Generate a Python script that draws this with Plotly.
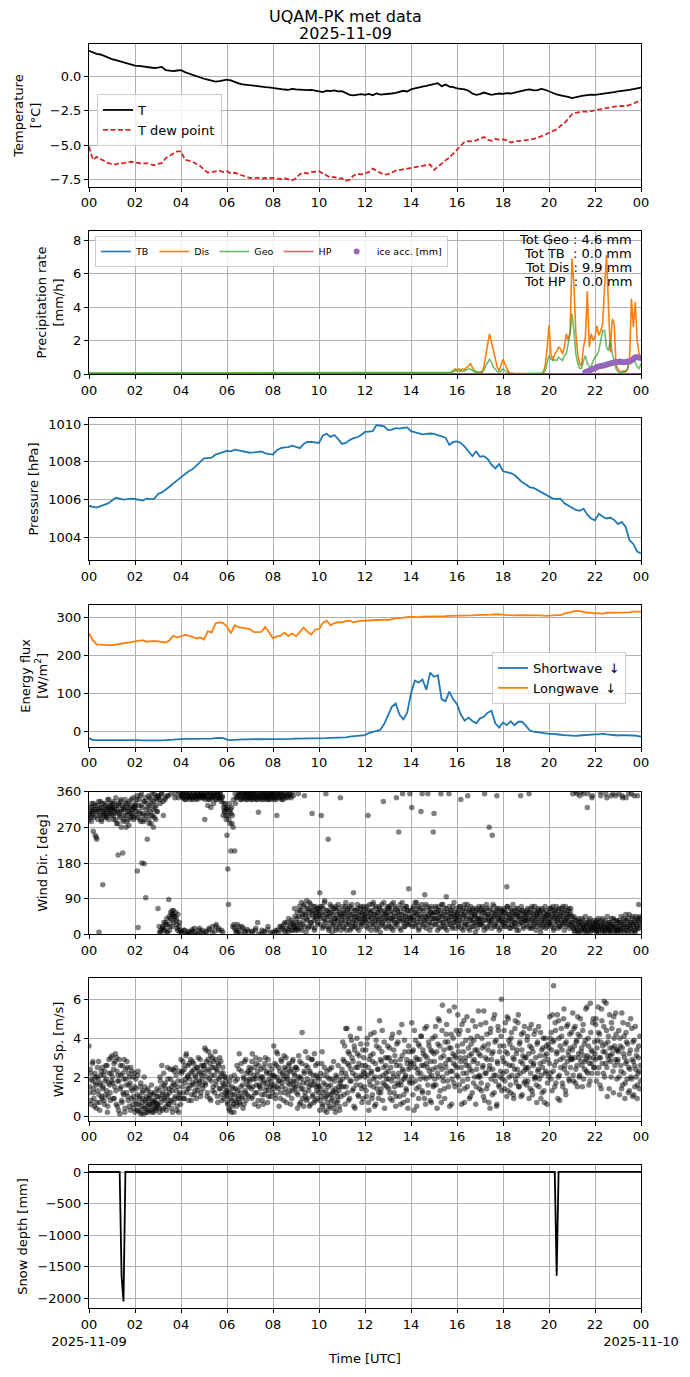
import numpy as np
import plotly.graph_objects as go
from plotly.subplots import make_subplots

# ---------------- DATA (hours UTC since 2025-11-09 00:00) ----------------
HOUR_TICKS = [0, 2, 4, 6, 8, 10, 12, 14, 16, 18, 20, 22, 24]
HOUR_LABELS = ["00", "02", "04", "06", "08", "10", "12", "14", "16", "18", "20", "22", "00"]
BOTTOM_LABELS = ["00<br>2025-11-09", "02", "04", "06", "08", "10", "12", "14", "16",
                 "18", "20", "22", "00<br>2025-11-10"]

# 10-minute series
TEMP = [
    1.85, 1.75, 1.62, 1.58, 1.45, 1.38,
    1.25, 1.18, 1.10, 1.02, 0.90, 0.82,
    0.78, 0.76, 0.72, 0.70, 0.65, 0.60,
    0.62, 0.68, 0.45, 0.40, 0.38, 0.42,
    0.45, 0.30, 0.20, 0.08, -0.02, -0.10,
    -0.18, -0.25, -0.32, -0.38, -0.35, -0.30,
    -0.25, -0.30, -0.42, -0.52, -0.58, -0.62,
    -0.65, -0.70, -0.72, -0.75, -0.78, -0.80,
    -0.85, -0.88, -0.92, -0.96, -0.98, -0.92,
    -0.95, -0.98, -1.02, -1.00, -0.98, -1.05,
    -1.12, -1.15, -1.05, -1.08, -1.02, -1.10,
    -1.08, -1.20, -1.35, -1.38, -1.32, -1.30,
    -1.35, -1.28, -1.38, -1.25, -1.33, -1.30,
    -1.32, -1.25, -1.20, -1.15, -1.05, -1.10,
    -0.95, -0.88, -0.80, -0.75, -0.70, -0.62,
    -0.58, -0.50, -0.72, -0.60, -0.75, -0.78,
    -0.88, -0.92, -0.95, -1.05, -1.25, -1.35,
    -1.30, -1.18, -1.25, -1.35, -1.30, -1.25,
    -1.28, -1.22, -1.25, -1.18, -1.10, -1.05,
    -0.98, -0.95, -1.02, -1.00, -0.92, -0.98,
    -1.10, -1.20, -1.32, -1.38, -1.42, -1.50,
    -1.58, -1.50, -1.45, -1.40, -1.35, -1.33,
    -1.35, -1.32, -1.28, -1.22, -1.20, -1.15,
    -1.10, -1.08, -1.02, -0.98, -0.92, -0.88,
    -0.82]

DEW_POINT = [
    -5.10, -6.05, -5.85, -6.00, -6.15, -6.30,
    -6.35, -6.40, -6.28, -6.32, -6.25, -6.20,
    -6.25, -6.30, -6.35, -6.30, -6.40, -6.45,
    -6.35, -6.30, -5.95, -5.75, -5.60, -5.45,
    -5.45, -6.05, -6.10, -6.20, -6.35, -6.50,
    -6.80, -6.98, -6.95, -6.90, -6.85, -6.95,
    -6.88, -7.05, -7.00, -7.10, -7.20, -7.30,
    -7.38, -7.40, -7.35, -7.42, -7.38, -7.40,
    -7.38, -7.42, -7.45, -7.40, -7.50, -7.55,
    -7.40, -7.10, -6.98, -7.05, -6.95, -6.90,
    -6.88, -7.05, -7.20, -7.35, -7.30, -7.45,
    -7.40, -7.58, -7.50, -7.20, -7.08, -7.12,
    -7.03, -6.95, -6.70, -6.85, -7.05, -7.15,
    -7.10, -6.95, -6.85, -6.80, -6.75, -6.70,
    -6.65, -6.60, -6.55, -6.48, -6.45, -6.40,
    -6.80, -6.55, -6.30, -6.10, -5.90, -5.60,
    -5.35, -5.00, -4.75, -4.70, -4.72, -4.65,
    -4.50, -4.40, -4.60, -4.68, -4.55, -4.60,
    -4.58, -4.65, -4.80, -4.72, -4.70, -4.68,
    -4.62, -4.60, -4.55, -4.45, -4.38, -4.25,
    -4.10, -4.00, -3.85, -3.60, -3.40, -3.10,
    -2.75, -2.65, -2.60, -2.55, -2.58, -2.52,
    -2.45, -2.40, -2.35, -2.30, -2.25, -2.20,
    -2.18, -2.15, -2.18, -2.10, -2.00, -1.85,
    -1.72]

PRESSURE = [
    1005.66, 1005.60, 1005.58, 1005.65, 1005.72, 1005.80,
    1005.95, 1006.10, 1006.05, 1006.00, 1006.02, 1006.05,
    1006.03, 1005.98, 1005.95, 1006.05, 1006.02, 1006.04,
    1006.30, 1006.38, 1006.52, 1006.68, 1006.86, 1007.02,
    1007.15, 1007.30, 1007.50, 1007.60, 1007.78, 1007.95,
    1008.18, 1008.20, 1008.22, 1008.38, 1008.45, 1008.55,
    1008.58, 1008.55, 1008.64, 1008.60, 1008.55, 1008.50,
    1008.48, 1008.50, 1008.52, 1008.55, 1008.45, 1008.40,
    1008.38, 1008.62, 1008.72, 1008.76, 1008.78, 1008.85,
    1008.80, 1008.72, 1008.95, 1009.06, 1009.05, 1009.02,
    1009.00, 1009.40, 1009.48, 1009.32, 1009.42, 1009.20,
    1008.95, 1009.00, 1009.15, 1009.25, 1009.30, 1009.42,
    1009.58, 1009.60, 1009.62, 1009.95, 1009.92, 1009.88,
    1009.68, 1009.70, 1009.78, 1009.76, 1009.80, 1009.82,
    1009.62, 1009.55, 1009.50, 1009.45, 1009.48, 1009.50,
    1009.48, 1009.40, 1009.32, 1009.28, 1008.90, 1009.05,
    1009.08, 1009.00, 1008.80, 1008.55, 1008.30, 1008.55,
    1008.27, 1008.30, 1008.15, 1007.85, 1007.65, 1007.88,
    1007.50, 1007.45, 1007.40, 1007.30, 1007.10, 1006.92,
    1006.80, 1006.65, 1006.62, 1006.50, 1006.38, 1006.25,
    1006.15, 1006.05, 1006.03, 1006.05, 1005.80, 1005.68,
    1005.55, 1005.45, 1005.40, 1005.52, 1005.20, 1005.00,
    1004.90, 1005.25, 1005.10, 1005.00, 1005.05, 1004.92,
    1004.70, 1004.82, 1004.55, 1003.85, 1003.65, 1003.25,
    1003.15]

SHORTWAVE = [
    -17, -22, -22, -22, -22, -22,
    -22, -22, -22, -21, -21, -22,
    -22, -22, -23, -23, -24, -24,
    -24, -23, -22, -22, -21, -20,
    -19, -19, -19, -19, -19, -19,
    -19, -19, -18, -17, -16, -17,
    -21, -22, -21, -20, -20, -20,
    -20, -20, -20, -20, -20, -20,
    -20, -20, -20, -19, -19, -19,
    -18, -18, -18, -18, -18, -18,
    -17, -17, -17, -16, -16, -16,
    -15, -15, -13, -12, -11, -10,
    -9, -4, -1, 2, 5, 20,
    45, 65, 74, 45, 32, 50,
    100, 134, 129, 137, 110, 155,
    144, 148, 85, 80, 105, 85,
    72, 45, 29, 37, 28, 22,
    35, 39, 50, 55, 22, 11,
    24, 17, 27, 17, 26, 26,
    15, 3, 0, -2, -4, -4,
    -6, -6, -8, -8, -9, -10,
    -10, -11, -10, -9, -8, -7,
    -7, -7, -5, -7, -8, -9,
    -10, -9, -9, -9, -10, -11,
    -13]

LONGWAVE = [
    258, 240, 229, 228, 228, 227,
    227, 228, 230, 232, 233, 235,
    237, 238, 240, 236, 238, 238,
    237, 236, 234, 240, 252, 247,
    250, 254, 252, 248, 245, 247,
    242, 264, 260, 284, 287, 285,
    276, 258, 279, 274, 272, 270,
    269, 261, 262, 262, 275, 260,
    245, 250, 252, 260, 251, 258,
    250, 262, 273, 262, 255, 268,
    269, 285, 291, 279, 285, 287,
    287, 290, 291, 287, 290, 291,
    291, 292, 292, 293, 293, 294,
    293, 296, 297, 298, 299, 300,
    302, 301, 300, 302, 302, 303,
    303, 303, 303, 303, 304, 304,
    304, 304, 305, 305, 305, 306,
    306, 306, 307, 307, 308, 308,
    307, 306, 305, 305, 306, 306,
    306, 306, 305, 305, 305, 304,
    304, 305, 306, 306, 310, 313,
    315, 317, 316, 314, 312, 312,
    310, 311, 309, 312, 312, 312,
    312, 312, 313, 313, 315, 315,
    315]

# Precipitation: hourly nodes during the dry period, then 5-minute values from 15:30
PRECIP_DRY_HOURS = [0, 1, 2, 3, 4, 5, 6, 7, 8, 9, 10, 11, 12, 13, 14, 15]
DIS_DRY = [0.04, 0.04, 0.04, 0.04, 0.04, 0.04, 0.04, 0.04,
           0.04, 0.04, 0.04, 0.04, 0.04, 0.04, 0.04, 0.04]
GEO_DRY = [0.06, 0.06, 0.06, 0.06, 0.06, 0.06, 0.06, 0.06,
           0.06, 0.06, 0.06, 0.06, 0.06, 0.06, 0.06, 0.06]
DIS_WET = [
    0.04, 0.05, 0.05, 0.10, 0.20, 0.30,
    0.25, 0.30, 0.20, 0.30, 0.25, 0.40, 0.45, 0.65, 0.40, 0.20, 0.15, 0.10,
    0.10, 0.15, 0.40, 1.20, 1.80, 2.40, 1.90, 1.20, 0.90, 0.40, 0.20, 0.60,
    0.88, 0.60, 0.30, 0.10, 0.05, 0.02, 0.00, 0.00, 0.00, 0.00, 0.00, 0.00,
    0.00, 0.00, 0.00, 0.00, 0.00, 0.00, 0.00, 0.00, 0.00, 0.10, 0.50, 1.50,
    2.90, 1.20, 0.84, 1.20, 1.35, 1.60, 1.50, 1.20, 1.60, 2.40, 2.00, 2.50,
    6.90, 5.40, 2.50, 1.20, 0.60, 0.50, 1.60, 2.20, 4.95, 1.60, 2.40, 2.00,
    2.20, 2.87, 2.30, 2.60, 3.00, 5.20, 7.10, 4.20, 1.30, 3.30, 3.00, 0.50,
    0.30, 0.14, 0.10, 0.20, 0.15, 0.30, 0.80, 4.50, 2.80, 4.30, 2.00, 1.20,
    1.00]
GEO_WET = [
    0.06, 0.06, 0.08, 0.10, 0.15, 0.20,
    0.20, 0.15, 0.20, 0.15, 0.20, 0.25, 0.30, 0.30, 0.20, 0.15, 0.10, 0.08,
    0.08, 0.10, 0.20, 0.50, 0.70, 0.88, 0.70, 0.40, 0.30, 0.15, 0.10, 0.20,
    0.30, 0.20, 0.10, 0.05, 0.03, 0.02, 0.02, 0.02, 0.02, 0.02, 0.02, 0.02,
    0.02, 0.02, 0.02, 0.02, 0.02, 0.02, 0.02, 0.02, 0.02, 0.05, 0.20, 0.60,
    1.10, 0.90, 0.80, 0.85, 0.80, 1.00, 0.90, 0.80, 1.10, 1.20, 1.80, 2.40,
    3.60, 2.60, 1.20, 0.64, 0.35, 0.34, 0.80, 1.10, 0.64, 0.44, 0.44, 0.80,
    1.00, 1.10, 1.40, 2.00, 2.60, 2.60, 1.60, 1.40, 2.00, 1.20, 0.84, 0.30,
    0.14, 0.10, 0.10, 0.14, 0.14, 0.30, 0.84, 0.90, 1.00, 0.70, 0.44, 0.30,
    0.64]
TB_HOURS = [0, 24]
TB_RATE = [0.0, 0.0]
HP_HOURS = [0, 24]
HP_RATE = [0.0, 0.0]
ICE_ACC = [0.12, 0.15, 0.20, 0.25, 0.30, 0.35, 0.42, 0.45, 0.48, 0.50,
           0.52, 0.55, 0.60, 0.62, 0.65, 0.68, 0.70, 0.72, 0.74, 0.72,
           0.70, 0.72, 0.74, 0.75, 0.80, 0.90, 1.00, 1.00, 0.98, 0.95]
TOTALS = ["Tot Geo : 4.6 mm", "Tot TB\u00a0 : 0.0 mm", "Tot Dis : 9.9 mm", "Tot HP\u00a0 : 0.0 mm"]

# Wind samples: even minutes (A) and odd minutes (B)
WIND_SPEED_A = [
    3.6, 1.5, 2.2, 0.6, 1.8, 2.8, 1.2, 0.5, 2.0, 1.6, 0.7, 2.5, 1.9, 1.1, 0.3, 1.7, 2.3, 0.9, 1.4, 2.1, 0.6, 1.8, 2.6, 1.3, 0.2, 1.0, 2.9, 1.6, 0.8, 2.2,
    3.1, 1.7, 2.4, 0.9, 2.8, 1.3, 3.0, 0.5, 2.1, 1.8, 0.1, 2.6, 1.5, 0.7, 2.2, 1.1, 2.9, 0.4, 1.9, 1.2, 2.5, 0.8, 1.6, 2.0, 0.3, 1.4, 2.3, 0.6, 1.0, 2.2,
    0.2, 1.9, 0.6, 1.1, 2.3, 0.3, 0.9, 1.5, 0.1, 0.7, 1.3, 0.4, 2.0, 0.8, 0.2, 1.0, 0.5, 1.4, 0.3, 0.9, 0.6, 1.2, 0.2, 0.7, 1.1, 0.4, 0.8, 0.3, 0.6, 1.0,
    0.5, 1.3, 0.2, 1.8, 0.9, 2.6, 1.1, 0.4, 1.6, 0.8, 1.4, 0.3, 1.0, 1.9, 0.6, 1.2, 2.4, 0.8, 1.5, 0.2, 1.7, 2.3, 0.9, 2.5, 1.3, 0.5, 1.8, 0.2, 1.1, 0.9,
    2.9, 1.8, 2.3, 1.2, 0.9, 2.6, 1.9, 3.2, 1.4, 2.1, 0.8, 2.7, 1.6, 2.2, 1.1, 2.8, 1.7, 2.4, 1.3, 2.0, 0.9, 2.5, 1.5, 2.3, 1.8, 2.9, 1.2, 2.1, 1.6, 2.6,
    2.2, 3.5, 1.6, 2.8, 1.0, 2.4, 3.3, 1.9, 2.7, 0.8, 2.1, 3.0, 1.5, 2.5, 1.2, 2.9, 1.8, 2.3, 0.7, 2.6, 1.4, 2.0, 2.8, 1.1, 1.7, 2.2, 0.9, 1.5, 2.0, 1.3,
    1.0, 0.6, 1.6, 0.3, 1.2, 2.0, 0.8, 0.5, 1.4, 0.2, 1.1, 1.8, 0.7, 2.6, 1.3, 0.9, 3.2, 0.6, 1.5, 2.3, 1.0, 0.4, 1.9, 2.8, 1.2, 0.8, 2.2, 1.6, 1.0, 2.5,
    1.8, 2.4, 0.9, 3.2, 1.5, 2.1, 0.6, 1.9, 2.7, 1.2, 2.3, 0.5, 1.6, 2.9, 1.4, 2.0, 0.8, 1.7, 2.5, 1.1, 3.0, 1.5, 2.2, 0.7, 1.3, 1.9, 2.6, 1.0, 1.6, 2.1,
    1.4, 3.6, 2.0, 0.9, 2.6, 1.5, 3.2, 1.8, 0.5, 2.3, 1.2, 2.8, 1.7, 2.1, 0.8, 2.5, 1.4, 3.0, 1.9, 2.2, 1.1, 2.7, 1.6, 0.6, 2.4, 1.3, 2.9, 1.8, 2.1, 1.5,
    2.5, 1.2, 0.4, 2.0, 1.6, 2.8, 0.7, 1.9, 4.3, 1.4, 0.5, 2.2, 1.0, 2.6, 1.7, 0.9, 3.0, 1.5, 2.3, 0.6, 1.8, 2.9, 1.1, 1.6, 3.2, 0.8, 2.1, 1.3, 2.7, 1.6,
    1.5, 0.3, 2.2, 1.0, 3.3, 0.6, 1.7, 2.5, 0.9, 1.3, 0.2, 2.0, 1.1, 0.5, 2.4, 1.6, 0.8, 1.9, 1.2, 2.8, 0.4, 1.4, 2.1, 0.7, 1.0, 2.6, 1.3, 0.3, 1.8, 1.5,
    2.4, 3.8, 1.5, 2.8, 0.6, 4.5, 2.0, 1.2, 3.3, 2.6, 0.9, 4.1, 1.8, 3.0, 2.2, 1.4, 3.6, 0.4, 2.5, 1.9, 3.2, 1.1, 2.7, 4.5, 1.6, 2.1, 0.7, 3.4, 2.3, 1.5,
    2.0, 3.4, 1.0, 4.0, 2.5, 0.3, 1.8, 3.1, 2.2, 0.9, 2.8, 1.5, 4.3, 2.0, 0.6, 3.6, 1.7, 2.4, 1.2, 4.9, 2.9, 1.4, 3.3, 0.8, 2.1, 3.8, 1.6, 2.6, 1.9, 3.0,
    2.3, 1.4, 3.5, 0.9, 2.8, 1.8, 4.2, 2.0, 1.2, 3.1, 0.5, 2.6, 1.7, 3.8, 2.2, 1.0, 2.9, 1.6, 4.7, 2.4, 0.7, 1.9, 3.3, 2.1, 1.3, 2.7, 0.4, 3.6, 1.8, 2.5,
    2.8, 4.8, 1.7, 3.4, 0.3, 2.5, 3.9, 1.4, 2.9, 2.2, 0.9, 3.6, 1.9, 4.1, 2.6, 1.2, 3.2, 2.0, 4.5, 0.6, 2.7, 3.0, 1.6, 3.8, 2.3, 0.8, 3.4, 2.1, 4.0, 1.5,
    3.2, 1.9, 4.6, 2.5, 0.4, 3.7, 2.0, 4.9, 1.3, 3.0, 2.4, 5.7, 1.8, 3.4, 0.9, 2.7, 4.2, 2.2, 3.8, 1.5, 5.4, 2.9, 3.5, 0.6, 2.3, 4.0, 1.7, 3.1, 2.6, 4.4,
    2.5, 5.2, 3.3, 1.6, 4.4, 2.8, 0.6, 3.7, 2.2, 4.9, 1.4, 3.0, 2.6, 5.1, 1.9, 3.5, 0.9, 2.4, 4.0, 3.2, 1.2, 2.8, 3.9, 2.0, 4.6, 1.5, 3.4, 2.7, 5.4, 2.1,
    2.0, 4.7, 1.3, 3.5, 2.6, 5.4, 0.8, 3.0, 2.2, 4.2, 1.6, 3.7, 2.4, 0.4, 4.5, 2.9, 1.1, 3.3, 2.1, 5.2, 1.8, 3.9, 0.6, 2.7, 4.4, 1.5, 3.6, 2.3, 6.0, 1.9,
    2.2, 3.6, 1.4, 4.8, 2.7, 1.0, 3.2, 5.0, 2.0, 3.7, 1.2, 4.3, 2.6, 3.0, 0.9, 2.4, 4.9, 1.7, 3.4, 2.1, 5.2, 1.5, 3.8, 2.8, 4.2, 1.1, 3.1, 2.3, 4.6, 1.8,
    3.0, 1.6, 4.1, 2.5, 0.9, 3.6, 2.2, 4.7, 1.3, 3.3, 2.7, 1.9, 4.4, 2.0, 0.7, 3.8, 2.4, 1.5, 3.1, 4.3, 2.1, 1.2, 3.5, 2.8, 0.7, 4.0, 2.3, 3.2, 1.7, 3.7,
    3.5, 5.1, 2.2, 4.3, 1.3, 3.8, 6.7, 2.6, 4.8, 1.7, 3.2, 5.2, 2.0, 4.0, 0.8, 2.9, 4.5, 3.4, 1.5, 5.0, 2.4, 3.7, 1.1, 4.6, 2.8, 3.3, 1.9, 4.2, 2.5, 3.0,
    2.9, 5.3, 1.8, 3.6, 4.6, 2.4, 3.9, 1.5, 4.2, 3.0, 2.1, 5.0, 3.3, 2.6, 4.4, 1.9, 3.7, 2.8, 5.5, 2.3, 3.1, 4.0, 1.6, 2.7, 5.8, 3.4, 2.2, 4.8, 3.0, 2.5,
    3.2, 4.7, 1.8, 3.9, 5.6, 2.5, 4.2, 3.0, 1.4, 4.9, 3.6, 2.2, 5.9, 3.3, 2.7, 4.4, 1.0, 3.8, 2.9, 5.2, 3.1, 2.0, 4.5, 3.5, 1.2, 4.0, 2.6, 5.3, 3.4, 2.8,
    2.9, 4.4, 1.1, 3.6, 2.3, 5.3, 1.6, 3.2, 4.1, 0.9, 2.7, 3.8, 1.9, 4.7, 2.5, 1.3, 3.4, 2.0, 4.5, 1.0, 2.8, 3.9, 1.5, 2.4, 3.1, 0.9, 2.2, 3.6, 1.4, 2.6]

WIND_SPEED_B = [
    1.2, 2.4, 0.8, 1.9, 2.7, 1.4, 0.9, 2.2, 1.7, 0.4, 2.0, 1.3, 2.8, 0.7, 1.6, 2.1, 1.0, 2.5, 1.5, 0.8, 2.3, 1.1, 1.9, 2.6, 0.5, 1.7, 2.2, 1.2, 3.0, 1.8,
    2.0, 0.9, 2.7, 1.5, 3.2, 0.6, 2.3, 1.8, 0.3, 2.9, 1.4, 2.1, 0.8, 2.6, 1.2, 1.9, 0.2, 2.4, 1.6, 2.8, 1.0, 2.2, 0.5, 1.7, 2.5, 0.9, 1.3, 2.0, 0.4, 1.5,
    0.8, 1.4, 0.3, 2.1, 0.6, 1.0, 0.2, 1.7, 0.5, 1.2, 0.9, 0.1, 1.5, 0.4, 0.7, 1.3, 0.2, 0.9, 0.6, 1.1, 0.3, 1.6, 0.5, 0.8, 0.2, 1.2, 0.7, 0.4, 1.4, 0.6,
    1.0, 0.4, 2.0, 0.7, 1.5, 0.3, 1.2, 2.2, 0.9, 1.7, 0.5, 1.1, 2.5, 0.6, 1.4, 0.8, 1.9, 0.4, 1.3, 2.4, 0.7, 1.6, 1.0, 2.1, 0.3, 1.5, 0.9, 2.3, 1.2, 0.6,
    2.2, 1.5, 2.8, 0.9, 2.4, 1.7, 3.1, 1.2, 2.0, 2.6, 1.4, 1.9, 2.9, 0.8, 2.3, 1.6, 2.7, 1.1, 2.1, 1.8, 2.5, 1.3, 3.0, 1.7, 2.2, 1.0, 2.6, 1.9, 1.4, 2.4,
    2.6, 1.7, 3.4, 2.0, 1.2, 2.9, 2.3, 0.9, 3.1, 1.8, 2.5, 1.3, 2.8, 2.1, 3.3, 1.6, 2.4, 1.0, 2.7, 1.9, 3.0, 1.4, 2.2, 0.8, 2.5, 1.6, 2.0, 1.2, 1.8, 1.1,
    0.7, 1.3, 0.4, 1.8, 0.9, 0.2, 1.5, 1.1, 0.6, 2.1, 0.8, 1.4, 0.5, 1.9, 1.0, 2.4, 0.7, 1.2, 2.7, 0.9, 1.6, 2.0, 0.6, 1.3, 2.9, 1.8, 1.1, 2.3, 1.5, 1.9,
    2.2, 1.4, 2.8, 1.0, 1.9, 2.5, 1.2, 3.0, 1.6, 2.1, 0.8, 2.6, 1.5, 1.9, 2.4, 1.1, 2.0, 0.6, 1.8, 2.7, 1.3, 2.3, 1.7, 2.9, 1.0, 2.2, 1.5, 1.8, 2.4, 1.2,
    2.1, 1.6, 2.7, 1.1, 3.3, 2.0, 1.4, 2.5, 1.8, 0.9, 2.9, 1.5, 2.2, 1.9, 3.1, 1.2, 2.4, 0.7, 2.0, 1.7, 2.6, 1.3, 2.3, 1.8, 0.9, 2.8, 1.6, 2.2, 1.4, 2.5,
    1.8, 2.4, 1.1, 3.1, 0.6, 2.0, 1.4, 2.7, 0.9, 1.7, 2.3, 1.2, 3.3, 0.8, 1.9, 2.5, 1.3, 0.5, 2.2, 1.6, 2.9, 1.0, 2.1, 0.7, 1.8, 2.6, 1.5, 0.9, 2.0, 1.2,
    1.9, 0.8, 1.4, 2.7, 0.5, 1.2, 2.1, 0.3, 1.6, 1.0, 2.3, 0.7, 1.5, 1.9, 0.4, 1.1, 2.5, 0.9, 1.3, 0.6, 1.8, 0.2, 1.2, 2.0, 0.8, 1.5, 0.5, 1.7, 1.0, 2.2,
    1.9, 2.9, 1.1, 3.6, 2.2, 1.5, 4.5, 2.7, 0.8, 3.2, 1.8, 2.4, 3.9, 1.3, 2.8, 0.5, 3.4, 2.1, 1.6, 4.0, 2.5, 1.0, 3.1, 2.0, 3.7, 1.4, 2.6, 0.9, 3.0, 2.2,
    2.6, 1.3, 3.7, 2.1, 0.7, 2.9, 1.6, 4.2, 2.3, 1.1, 3.2, 1.9, 0.5, 2.7, 3.9, 1.4, 2.4, 0.9, 3.5, 2.0, 1.2, 2.8, 4.4, 1.7, 2.5, 0.4, 3.0, 2.2, 1.5, 3.6,
    1.9, 3.0, 1.2, 2.5, 4.0, 0.8, 2.2, 3.4, 1.5, 2.8, 1.0, 3.7, 2.0, 1.6, 4.3, 2.6, 0.6, 1.8, 3.1, 2.3, 1.1, 3.9, 2.0, 1.4, 2.9, 0.8, 2.4, 3.3, 1.7, 2.7,
    2.0, 3.3, 1.1, 2.7, 4.4, 1.8, 3.0, 0.5, 2.4, 3.7, 1.5, 2.9, 2.2, 4.1, 1.3, 3.4, 2.6, 0.9, 3.1, 1.9, 4.6, 2.5, 1.2, 3.6, 2.0, 2.8, 0.7, 3.3, 2.4, 1.6,
    2.8, 4.1, 1.6, 3.3, 2.2, 5.0, 1.0, 3.6, 2.6, 0.7, 4.4, 2.0, 3.1, 1.4, 3.8, 2.5, 4.7, 1.8, 2.9, 3.5, 0.5, 2.3, 4.2, 1.9, 3.2, 2.7, 5.6, 1.5, 3.0, 2.1,
    3.6, 2.0, 4.2, 1.3, 3.0, 2.5, 4.7, 1.8, 3.3, 0.7, 2.8, 3.9, 2.2, 1.5, 4.4, 2.6, 3.1, 1.0, 3.7, 2.3, 4.9, 1.7, 2.9, 3.4, 0.6, 2.4, 4.1, 2.0, 3.2, 1.4,
    3.1, 1.7, 4.0, 2.5, 1.0, 3.6, 2.2, 4.8, 1.4, 2.9, 3.4, 0.7, 2.6, 4.3, 1.9, 3.2, 2.4, 5.0, 1.2, 3.8, 2.1, 0.5, 2.8, 4.6, 1.6, 3.3, 2.0, 4.1, 1.3, 3.0,
    2.8, 4.4, 1.8, 3.3, 2.3, 5.1, 1.3, 3.9, 2.6, 1.6, 4.0, 2.1, 3.5, 1.1, 2.9, 4.5, 1.9, 3.2, 2.4, 4.8, 1.5, 3.7, 2.2, 1.0, 3.4, 2.7, 4.3, 1.7, 3.0, 2.5,
    2.4, 3.9, 1.8, 3.2, 4.5, 1.4, 2.8, 3.5, 1.1, 2.6, 4.2, 2.0, 3.0, 1.6, 3.7, 2.3, 4.6, 1.9, 2.7, 0.9, 3.4, 2.5, 4.0, 1.3, 3.1, 2.2, 3.6, 0.6, 2.9, 2.0,
    2.7, 4.0, 1.9, 3.4, 5.2, 2.3, 3.9, 1.5, 4.4, 2.8, 3.3, 0.9, 4.9, 2.1, 3.6, 2.5, 4.1, 1.7, 3.0, 5.5, 2.6, 1.3, 3.8, 2.2, 4.7, 3.1, 1.8, 3.5, 2.9, 4.3,
    3.4, 2.1, 4.5, 3.0, 1.7, 3.8, 2.6, 5.1, 3.2, 2.0, 4.1, 2.8, 3.5, 1.5, 4.7, 3.1, 2.4, 3.9, 2.9, 5.6, 2.2, 3.6, 3.0, 1.8, 4.3, 2.7, 3.3, 5.0, 2.5, 3.8,
    2.9, 5.0, 3.5, 2.2, 4.3, 3.0, 1.6, 3.8, 5.5, 2.7, 3.3, 4.6, 2.0, 3.7, 5.8, 2.5, 3.1, 4.1, 1.4, 3.5, 2.8, 4.8, 3.2, 2.3, 5.1, 3.6, 2.9, 4.2, 1.9, 3.4,
    3.3, 2.0, 4.0, 2.6, 1.4, 3.5, 4.8, 2.2, 3.0, 1.7, 4.3, 2.8, 3.7, 1.2, 3.2, 2.4, 5.0, 1.9, 2.9, 3.8, 1.1, 2.6, 4.6, 2.0, 3.4, 1.6, 3.0, 2.3, 4.1, 1.8]

WIND_DIR_A = [
    290, 300, 310, 285, 320, 305, 330, 295, 250, 315, 240, 325, 310, 5, 300, 335, 290, 320, 125, 310, 300, 330, 315, 295, 320, 305, 340, 310, 325, 300,
    315, 330, 290, 320, 305, 345, 280, 310, 200, 325, 300, 335, 270, 315, 205, 290, 320, 340, 300, 285, 330, 310, 275, 320, 295, 340, 305, 315, 290, 325,
    320, 300, 340, 160, 17, 310, 290, 350, 325, 180, 305, 285, 178, 335, 92, 300, 240, 320, 290, 345, 310, 280, 330, 300, 270, 355, 320, 290, 340, 310,
    65, 345, 5, 330, 10, 355, 20, 300, 15, 340, 30, 5, 350, 25, 88, 10, 40, 355, 50, 20, 60, 45, 345, 55, 35, 15, 50, 360, 30, 10,
    350, 5, 345, 355, 10, 340, 360, 0, 350, 345, 8, 355, 340, 3, 350, 12, 345, 358, 5, 350, 340, 355, 0, 348, 15, 352, 345, 358, 10, 350,
    345, 290, 355, 5, 350, 325, 340, 12, 358, 320, 345, 20, 350, 355, 8, 340, 25, 350, 360, 15, 345, 355, 340, 10, 348, 300, 330, 310, 320, 290,
    250, 165, 75, 310, 280, 210, 320, 300, 270, 25, 210, 330, 10, 345, 5, 355, 20, 350, 0, 340, 360, 15, 345, 355, 5, 350, 340, 358, 8, 345,
    355, 340, 350, 5, 360, 345, 355, 10, 340, 350, 30, 308, 355, 345, 0, 360, 350, 340, 8, 355, 345, 350, 360, 12, 340, 355, 350, 3, 345, 358,
    350, 340, 5, 355, 345, 300, 10, 350, 360, 20, 345, 355, 15, 340, 25, 350, 5, 358, 30, 345, 12, 355, 20, 350, 35, 10, 360, 25, 65, 15,
    20, 40, 10, 355, 30, 60, 15, 80, 45, 25, 70, 350, 50, 5, 85, 35, 65, 20, 55, 75, 30, 305, 60, 45, 10, 70, 40, 55, 25, 65,
    60, 105, 40, 300, 70, 50, 20, 80, 35, 355, 60, 45, 240, 15, 55, 30, 70, 5, 50, 25, 65, 40, 10, 60, 35, 75, 20, 50, 345, 30,
    45, 70, 20, 55, 35, 80, 10, 60, 40, 25, 70, 50, 15, 65, 30, 105, 45, 20, 60, 35, 75, 50, 10, 40, 65, 25, 55, 30, 70, 45,
    40, 65, 20, 55, 300, 35, 75, 45, 10, 60, 30, 80, 50, 25, 70, 40, 15, 55, 35, 65, 5, 45, 75, 30, 335, 60, 20, 50, 40, 70,
    55, 25, 70, 40, 15, 60, 35, 80, 45, 20, 65, 345, 30, 55, 258, 40, 75, 10, 50, 355, 35, 65, 20, 45, 70, 30, 60, 115, 40, 25,
    60, 320, 35, 70, 45, 20, 55, 80, 30, 65, 10, 50, 40, 310, 75, 25, 60, 35, 100, 45, 15, 70, 355, 50, 30, 65, 40, 20, 55, 258,
    305, 40, 70, 25, 55, 35, 60, 15, 45, 355, 75, 30, 50, 20, 65, 40, 95, 10, 55, 35, 70, 25, 45, 60, 15, 50, 80, 30, 40, 65,
    35, 55, 20, 70, 45, 340, 30, 60, 10, 50, 75, 25, 40, 65, 350, 15, 55, 35, 70, 45, 20, 60, 30, 50, 5, 65, 40, 25, 55, 35,
    60, 30, 45, 70, 20, 55, 355, 35, 65, 15, 50, 40, 270, 25, 60, 35, 250, 75, 45, 20, 55, 30, 350, 65, 40, 10, 50, 35, 60, 25,
    45, 65, 20, 55, 35, 120, 70, 25, 50, 40, 15, 60, 35, 75, 20, 50, 30, 65, 10, 45, 55, 25, 40, 350, 70, 30, 60, 15, 45, 35,
    50, 25, 65, 40, 355, 15, 55, 35, 70, 20, 45, 60, 30, 10, 50, 40, 65, 25, 55, 5, 35, 60, 20, 45, 30, 70, 15, 50, 40, 25,
    55, 30, 65, 20, 45, 70, 10, 40, 60, 25, 50, 35, 15, 65, 45, 20, 55, 30, 70, 40, 10, 60, 35, 50, 25, 45, 65, 15, 55, 30,
    20, 355, 40, 10, 25, 360, 15, 35, 5, 30, 350, 20, 10, 40, 25, 355, 15, 5, 30, 20, 320, 10, 35, 25, 5, 15, 345, 30, 20, 10,
    15, 30, 5, 25, 40, 10, 20, 360, 35, 15, 5, 25, 30, 10, 355, 20, 45, 15, 5, 30, 10, 350, 25, 20, 40, 5, 15, 350, 35, 10,
    20, 355, 30, 10, 45, 15, 345, 25, 5, 35, 50, 20, 10, 40, 355, 25, 15, 30, 5, 45, 20, 350, 35, 10, 25, 40, 15, 75, 30, 45]

WIND_DIR_B = [
    305, 320, 295, 330, 310, 260, 315, 300, 325, 245, 310, 290, 335, 315, 300, 320, 285, 330, 310, 305, 295, 325, 300, 315, 340, 290, 320, 305, 330, 315,
    320, 300, 335, 310, 290, 325, 315, 280, 330, 305, 295, 340, 310, 325, 285, 315, 300, 330, 270, 320, 310, 290, 335, 305, 325, 300, 315, 345, 295, 320,
    330, 310, 350, 295, 325, 340, 305, 285, 355, 320, 300, 335, 290, 345, 315, 330, 305, 350, 280, 325, 340, 300, 355, 315, 335, 295, 345, 325, 310, 350,
    350, 20, 340, 5, 355, 15, 335, 30, 10, 345, 25, 40, 5, 350, 45, 20, 55, 35, 60, 50, 30, 45, 355, 40, 25, 10, 345, 20, 5, 355,
    5, 350, 358, 345, 10, 355, 340, 0, 352, 348, 5, 360, 345, 350, 8, 340, 355, 15, 350, 345, 0, 358, 342, 10, 350, 355, 5, 345, 352, 0,
    350, 340, 8, 355, 345, 360, 15, 340, 350, 355, 5, 345, 330, 350, 358, 20, 340, 355, 345, 10, 350, 360, 335, 345, 5, 320, 310, 330, 300, 315,
    320, 300, 290, 330, 315, 305, 280, 20, 340, 15, 355, 5, 345, 25, 350, 10, 360, 340, 355, 20, 345, 350, 8, 358, 340, 355, 12, 345, 350, 360,
    345, 355, 8, 340, 350, 360, 345, 15, 355, 340, 350, 0, 345, 358, 340, 10, 350, 355, 345, 5, 360, 340, 350, 20, 345, 355, 340, 360, 350, 5,
    355, 345, 360, 10, 340, 350, 355, 5, 345, 358, 20, 340, 350, 10, 355, 30, 345, 15, 350, 5, 40, 355, 25, 345, 10, 30, 350, 20, 45, 10,
    30, 55, 15, 45, 70, 25, 60, 10, 50, 35, 75, 20, 55, 40, 65, 15, 45, 80, 30, 60, 20, 50, 70, 35, 15, 55, 45, 65, 30, 50,
    45, 70, 25, 55, 15, 65, 40, 85, 30, 50, 20, 60, 10, 45, 75, 35, 55, 20, 65, 40, 30, 70, 15, 50, 40, 65, 25, 55, 10, 45,
    35, 60, 15, 50, 70, 25, 45, 65, 30, 55, 10, 40, 75, 20, 50, 35, 60, 25, 45, 15, 65, 40, 55, 30, 70, 20, 50, 40, 60, 35,
    50, 30, 70, 15, 45, 60, 25, 55, 40, 75, 20, 50, 35, 65, 10, 45, 55, 30, 70, 20, 60, 40, 25, 50, 80, 35, 55, 15, 45, 65,
    35, 65, 20, 50, 75, 40, 10, 55, 30, 70, 45, 25, 60, 35, 50, 15, 65, 40, 80, 30, 55, 20, 45, 70, 35, 60, 25, 50, 355, 40,
    45, 20, 65, 35, 55, 80, 25, 50, 40, 70, 15, 60, 30, 45, 355, 65, 20, 50, 35, 75, 40, 25, 60, 45, 10, 55, 70, 30, 50, 40,
    55, 25, 65, 40, 10, 50, 70, 35, 60, 20, 45, 75, 30, 55, 15, 40, 65, 25, 50, 355, 35, 60, 45, 20, 70, 30, 55, 40, 15, 50,
    45, 25, 60, 35, 70, 15, 50, 40, 65, 20, 55, 30, 45, 75, 25, 60, 10, 40, 55, 35, 65, 20, 50, 45, 30, 60, 15, 40, 70, 25,
    40, 65, 25, 55, 35, 10, 60, 45, 75, 20, 50, 35, 65, 30, 45, 15, 55, 40, 70, 25, 50, 60, 20, 45, 35, 65, 15, 55, 40, 30,
    55, 30, 60, 20, 45, 70, 35, 50, 15, 65, 40, 25, 55, 45, 30, 60, 20, 50, 35, 65, 10, 45, 55, 30, 60, 40, 20, 50, 35, 55,
    35, 60, 20, 45, 55, 30, 65, 15, 40, 50, 25, 70, 35, 55, 20, 45, 60, 30, 50, 15, 65, 40, 25, 55, 35, 45, 60, 20, 50, 30,
    40, 65, 25, 50, 35, 60, 15, 55, 45, 70, 30, 40, 60, 20, 50, 35, 65, 25, 45, 55, 30, 70, 20, 40, 60, 35, 50, 25, 65, 45,
    30, 15, 45, 5, 35, 20, 355, 10, 40, 25, 5, 30, 360, 15, 35, 20, 10, 45, 25, 5, 355, 30, 15, 40, 20, 10, 350, 25, 35, 15,
    25, 10, 35, 20, 5, 30, 15, 350, 25, 40, 10, 20, 5, 35, 15, 345, 25, 10, 30, 20, 5, 40, 15, 355, 25, 35, 10, 20, 5, 30,
    10, 35, 20, 5, 30, 350, 15, 40, 25, 10, 345, 35, 20, 5, 50, 30, 15, 355, 40, 25, 10, 30, 5, 45, 20, 350, 35, 15, 40, 25]

SNOW_HOURS = [0, 1.3333, 1.4167, 1.5, 1.5833, 20.25, 20.3333, 20.4167, 24]
SNOW_DEPTH = [5, 5, -1650, -2050, 5, 5, -1640, 8, 8]

# ---------------- time grids ----------------
h10 = np.arange(len(TEMP)) / 6.0
h_precip = np.concatenate([np.array(PRECIP_DRY_HOURS, float), 15.5 + np.arange(len(DIS_WET)) / 12.0])
dis = DIS_DRY + DIS_WET
geo = GEO_DRY + GEO_WET
h_ice = 21.5833 + np.arange(len(ICE_ACC)) / 12.0
h_wind = np.concatenate([np.arange(len(WIND_SPEED_A)) * 2.0 / 60.0,
                         (np.arange(len(WIND_SPEED_B)) * 2.0 + 1.0) / 60.0])
wind_speed = WIND_SPEED_A + WIND_SPEED_B
wind_dir = WIND_DIR_A + WIND_DIR_B

# ---------------- figure ----------------
FONT = "DejaVu Sans"
fig = make_subplots(rows=7, cols=1)

def line(x, y, color, name, row, legend=None, width=1.8, dash=None, show=True):
    fig.add_trace(go.Scatter(x=x, y=y, mode="lines", name=name,
                             line=dict(color=color, width=width, dash=dash),
                             showlegend=show, legend=legend), row=row, col=1)

line(h10, TEMP, "black", "T", 1, legend="legend")
line(h10, DEW_POINT, "#d62728", "T dew point", 1, legend="legend", dash="5px,2.5px")

line(TB_HOURS, TB_RATE, "#1f77b4", "TB", 2, legend="legend2", width=1.6)
line(h_precip, dis, "#ff7f0e", "Dis", 2, legend="legend2", width=1.6)
line(h_precip, geo, "rgba(44,160,44,0.7)", "Geo", 2, legend="legend2", width=1.6)
line(HP_HOURS, HP_RATE, "rgba(214,39,40,0.7)", "HP", 2, legend="legend2", width=1.6)
fig.add_trace(go.Scatter(x=h_ice, y=ICE_ACC, mode="markers", name="ice acc. [mm]",
                         marker=dict(color="#9467bd", size=6, line=dict(width=0)),
                         legend="legend2"), row=2, col=1)

line(h10, PRESSURE, "#1f77b4", "P", 3, show=False)

line(h10, SHORTWAVE, "#1f77b4", "Shortwave\u2002\u2193", 4, legend="legend3")
line(h10, LONGWAVE, "#ff7f0e", "Longwave\u2002\u2193", 4, legend="legend3")

fig.add_trace(go.Scatter(x=h_wind, y=wind_dir, mode="markers", showlegend=False,
                         marker=dict(color="rgba(0,0,0,0.5)", size=5.5, line=dict(width=0))),
              row=5, col=1)
fig.add_trace(go.Scatter(x=h_wind, y=wind_speed, mode="markers", showlegend=False,
                         marker=dict(color="rgba(0,0,0,0.5)", size=5.5, line=dict(width=0))),
              row=6, col=1)
line(SNOW_HOURS, SNOW_DEPTH, "black", "snow", 7, show=False)

# ---------------- axes ----------------
# page body has an 8px offset; absolute pixel targets below are in window coords
OFF = 8
LEFT, RIGHT = 89, 641
TOP, BOT = 44, 1308
W = RIGHT - LEFT
H = BOT - TOP
panels = [(44.3, 186.7), (231, 374), (418, 560), (605, 746.7),
          (791.7, 934.3), (978.3, 1120.7), (1165, 1308)]
domains = [[max(0, (BOT - b) / H), min(1, (BOT - t) / H)] for t, b in panels]

tick_font = dict(family=FONT, size=13, color="black")
common = dict(showline=True, linecolor="black", linewidth=1, mirror=True,
              ticks="outside", ticklen=4, tickwidth=1, tickcolor="black",
              showgrid=True, gridcolor="#b0b0b0", gridwidth=0.8,
              zeroline=False, tickfont=tick_font, automargin=False, tickangle=0)

ycfg = [
    dict(range=[-8.01, 2.32], tickvals=[-7.5, -5.0, -2.5, 0.0], tickformat=".1f",
         title="Temperature<br>[°C]"),
    dict(range=[0, 8.54], tickvals=[0, 2, 4, 6, 8], title="Precipitation rate<br>[mm/h]"),
    dict(range=[1002.8, 1010.32], tickvals=[1004, 1006, 1008, 1010], title="Pressure [hPa]"),
    dict(range=[-39.4, 332.3], tickvals=[0, 100, 200, 300], title="Energy flux<br>[W/m<sup>2</sup>]"),
    dict(range=[0, 360], tickvals=[0, 90, 180, 270, 360], title="Wind Dir. [deg]"),
    dict(range=[-0.24, 7.08], tickvals=[0, 2, 4, 6], title="Wind Sp. [m/s]"),
    dict(range=[-2154, 116], tickvals=[-2000, -1500, -1000, -500, 0], title="Snow depth [mm]"),
]

for i in range(7):
    cfg = ycfg[i]
    ya = dict(common)
    ya.update(domain=domains[i], range=cfg["range"], tickvals=cfg["tickvals"],
              title=dict(text=cfg["title"], font=dict(family=FONT, size=13, color="black"),
                         standoff=6))
    if "tickformat" in cfg:
        ya["tickformat"] = cfg["tickformat"]
    fig.update_layout({("yaxis" if i == 0 else f"yaxis{i+1}"): ya})
    xa = dict(common)
    xa.update(domain=[0, 1], range=[0, 24], tickvals=HOUR_TICKS,
              ticktext=BOTTOM_LABELS if i == 6 else HOUR_LABELS)
    if i == 6:
        xa["title"] = dict(text="Time [UTC]", font=dict(family=FONT, size=13, color="black"),
                           standoff=6)
    fig.update_layout({("xaxis" if i == 0 else f"xaxis{i+1}"): xa})

legend_box = dict(bgcolor="rgba(255,255,255,0.8)", bordercolor="#cccccc", borderwidth=1,
                  xanchor="left", yanchor="top")
fig.update_layout(
    legend=dict(legend_box, x=(97 - LEFT) / W, y=(BOT - 94) / H,
                font=dict(family=FONT, size=13, color="black"), tracegroupgap=0),
    legend2=dict(legend_box, x=(95 - LEFT) / W, y=(BOT - 236) / H, orientation="h",
                 font=dict(family=FONT, size=9.5, color="black"), itemwidth=30),
    legend3=dict(legend_box, x=(492 - LEFT) / W, y=(BOT - 652) / H,
                 font=dict(family=FONT, size=13, color="black")),
)

ann = [
    dict(text="UQAM-PK met data", x=(345 - LEFT) / W, y=(BOT - 17) / H, font=dict(size=16)),
    dict(text="2025-11-09", x=(345 - LEFT) / W, y=(BOT - 33.5) / H, font=dict(size=16)),
]
for k, txt in enumerate(TOTALS):
    ann.append(dict(text=txt, x=(634 - LEFT) / W, y=(BOT - (239 + 14 * k)) / H,
                    xanchor="right", font=dict(size=13)))
for a in ann:
    a.setdefault("xanchor", "center")
    a.update(xref="paper", yref="paper", yanchor="middle", showarrow=False)
    a["font"] = dict(family=FONT, color="black", size=a["font"]["size"])
fig.update_layout(annotations=ann)

FIG_W, FIG_H = 690 - OFF, 1377 - OFF
fig.update_layout(
    width=FIG_W, height=FIG_H, template="none",
    margin=dict(l=LEFT - OFF, r=FIG_W + OFF - RIGHT, t=TOP - OFF, b=FIG_H + OFF - BOT,
                autoexpand=False),
    paper_bgcolor="white", plot_bgcolor="white",
    font=dict(family=FONT, size=13, color="black"),
)

fig.write_html("out.html")
